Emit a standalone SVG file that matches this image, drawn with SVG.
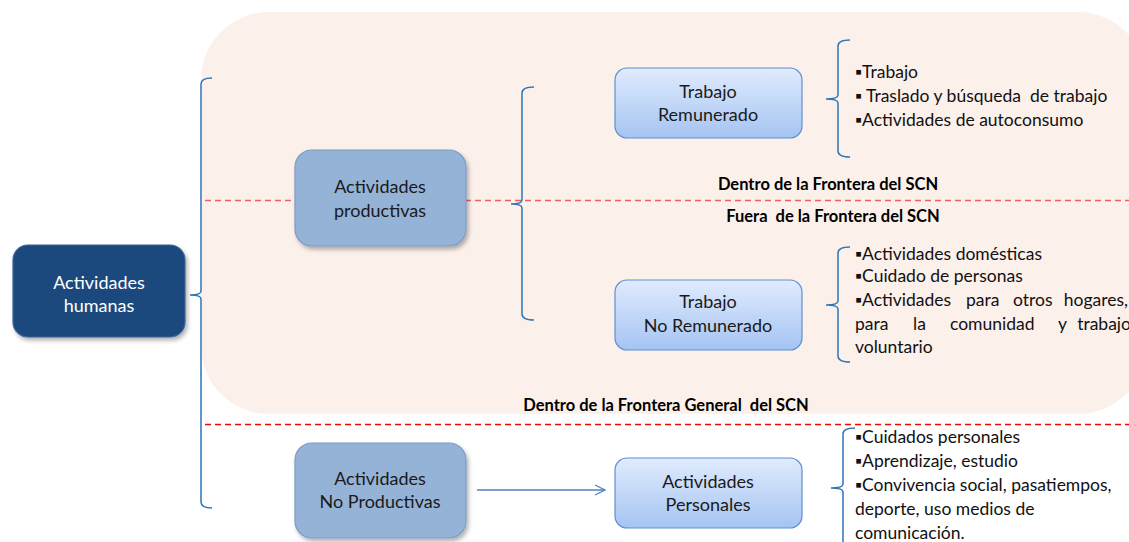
<svg xmlns="http://www.w3.org/2000/svg" width="1129" height="542" viewBox="0 0 1129 542" xml:space="preserve">
<defs>
<linearGradient id="lg" x1="0" y1="0" x2="0" y2="1">
<stop offset="0" stop-color="#e0ebfd"/>
<stop offset="1" stop-color="#a5c4f3"/>
</linearGradient>
<filter id="sh" x="-10%" y="-10%" width="130%" height="130%">
<feDropShadow dx="2" dy="3" stdDeviation="2" flood-color="#000" flood-opacity="0.3"/>
</filter>
<marker id="arr" markerWidth="12" markerHeight="12" refX="11" refY="6" orient="auto" markerUnits="userSpaceOnUse">
<path d="M1,1 L11,6 L1,11" fill="none" stroke="#4f81bd" stroke-width="1.3"/>
</marker>
<style>
.t{font-family:Lato,"Liberation Sans",sans-serif;font-size:17.5px;fill:#111;white-space:pre}
.nt{font-family:Lato,"Liberation Sans",sans-serif;font-size:18px;fill:#1a1a1a;text-anchor:middle}
.wt{fill:#ffffff}
.b{font-family:Lato,"Liberation Sans",sans-serif;font-size:16.5px;font-weight:bold;fill:#000;text-anchor:middle;white-space:pre}
.mid{fill:#95b3d7;stroke:#7b9cc8;stroke-width:1.2}
.lt{fill:url(#lg);stroke:#5f8fd0;stroke-width:1.2}
.brace{fill:none;stroke:#2e75b6;stroke-width:1.5}
.dash{fill:none;stroke-width:1.3;stroke-dasharray:6 4}
</style>
</defs>
<rect x="201" y="12" width="945" height="402" rx="68" fill="#fcf0eb"/>
<g id="connectors">
<line class="dash" x1="205" y1="200.5" x2="1129" y2="200.5" stroke="#ec5f5f"/>
<line class="dash" x1="205" y1="424.5" x2="1129" y2="424.5" stroke="#ff0000"/>
<path class="brace" d="M212,78 Q201,78 201,84 L201,291 Q201,295 190,295 Q201,295 201,299 L201,502 Q201,508 212,508"/>
<path class="brace" d="M534,87 Q522,87 522,93 L522,200 Q522,204 511,204 Q522,204 522,208 L522,314 Q522,320 534,320"/>
<path class="brace" d="M850,40 Q838,40 838,46 L838,95 Q838,99 826,99 Q838,99 838,103 L838,151 Q838,157 850,157"/>
<path class="brace" d="M850,247 Q838,247 838,253 L838,301 Q838,305 826,305 Q838,305 838,309 L838,356 Q838,362 850,362"/>
<path class="brace" d="M855,428 Q843,428 843,434 L843,484 Q843,488 831,488 Q843,488 843,492 L843,545"/>
<line x1="477" y1="490" x2="605" y2="490" stroke="#4f81bd" stroke-width="1.3" marker-end="url(#arr)"/>
</g>
<g id="n-humanas">
<rect x="13" y="245" width="172" height="92" rx="15" fill="#1f497d" stroke="#3a6496" stroke-width="1.2" filter="url(#sh)"/>
<text class="nt wt" x="99" y="289">Actividades</text>
<text class="nt wt" x="99" y="312">humanas</text>
</g>
<g id="n-productivas">
<rect class="mid" x="295" y="150" width="171" height="96" rx="17" filter="url(#sh)"/>
<text class="nt" x="380" y="193">Actividades</text>
<text class="nt" x="380" y="217">productivas</text>
</g>
<g id="n-noproductivas">
<rect class="mid" x="295" y="443" width="171" height="95" rx="17" filter="url(#sh)"/>
<text class="nt" x="380" y="485">Actividades</text>
<text class="nt" x="380" y="508">No Productivas</text>
</g>
<g id="n-remunerado">
<rect class="lt" x="615" y="68" width="187" height="70" rx="12"/>
<text class="nt" x="708" y="98">Trabajo</text>
<text class="nt" x="708" y="121">Remunerado</text>
</g>
<g id="n-noremunerado">
<rect class="lt" x="615" y="280" width="187" height="70" rx="12"/>
<text class="nt" x="708" y="308">Trabajo</text>
<text class="nt" x="708" y="332">No Remunerado</text>
</g>
<g id="n-personales">
<rect class="lt" x="615" y="458" width="187" height="70" rx="12"/>
<text class="nt" x="708" y="488">Actividades</text>
<text class="nt" x="708" y="511">Personales</text>
</g>
<g id="labels">
<text class="b" x="828" y="190">Dentro de la Frontera del SCN</text>
<text class="b" x="833" y="222">Fuera  de la Frontera del SCN</text>
<text class="b" x="666" y="411">Dentro de la Frontera General  del SCN</text>
</g>
<g id="list-remunerado">
<text class="t" x="855" y="78">▪Trabajo</text>
<text class="t" x="855" y="102">▪ Traslado y búsqueda  de trabajo</text>
<text class="t" x="855" y="126">▪Actividades de autoconsumo</text>
</g>
<g id="list-noremunerado">
<text class="t" x="855" y="260">▪Actividades domésticas</text>
<text class="t" x="855" y="282">▪Cuidado de personas</text>
<text class="t" y="306"><tspan x="855">▪Actividades</tspan><tspan x="966">para</tspan><tspan x="1013">otros</tspan><tspan x="1128" text-anchor="end">hogares,</tspan></text>
<text class="t" y="330"><tspan x="855">para</tspan><tspan x="913">la</tspan><tspan x="950">comunidad</tspan><tspan x="1058">y</tspan><tspan x="1131" text-anchor="end">trabajo</tspan></text>
<text class="t" x="855" y="353">voluntario</text>
</g>
<g id="list-personales">
<text class="t" x="855" y="443">▪Cuidados personales</text>
<text class="t" x="855" y="467">▪Aprendizaje, estudio</text>
<text class="t" x="855" y="491">▪Convivencia social, pasatiempos,</text>
<text class="t" x="855" y="515">deporte, uso medios de</text>
<text class="t" x="855" y="539">comunicación.</text>
</g>
</svg>
